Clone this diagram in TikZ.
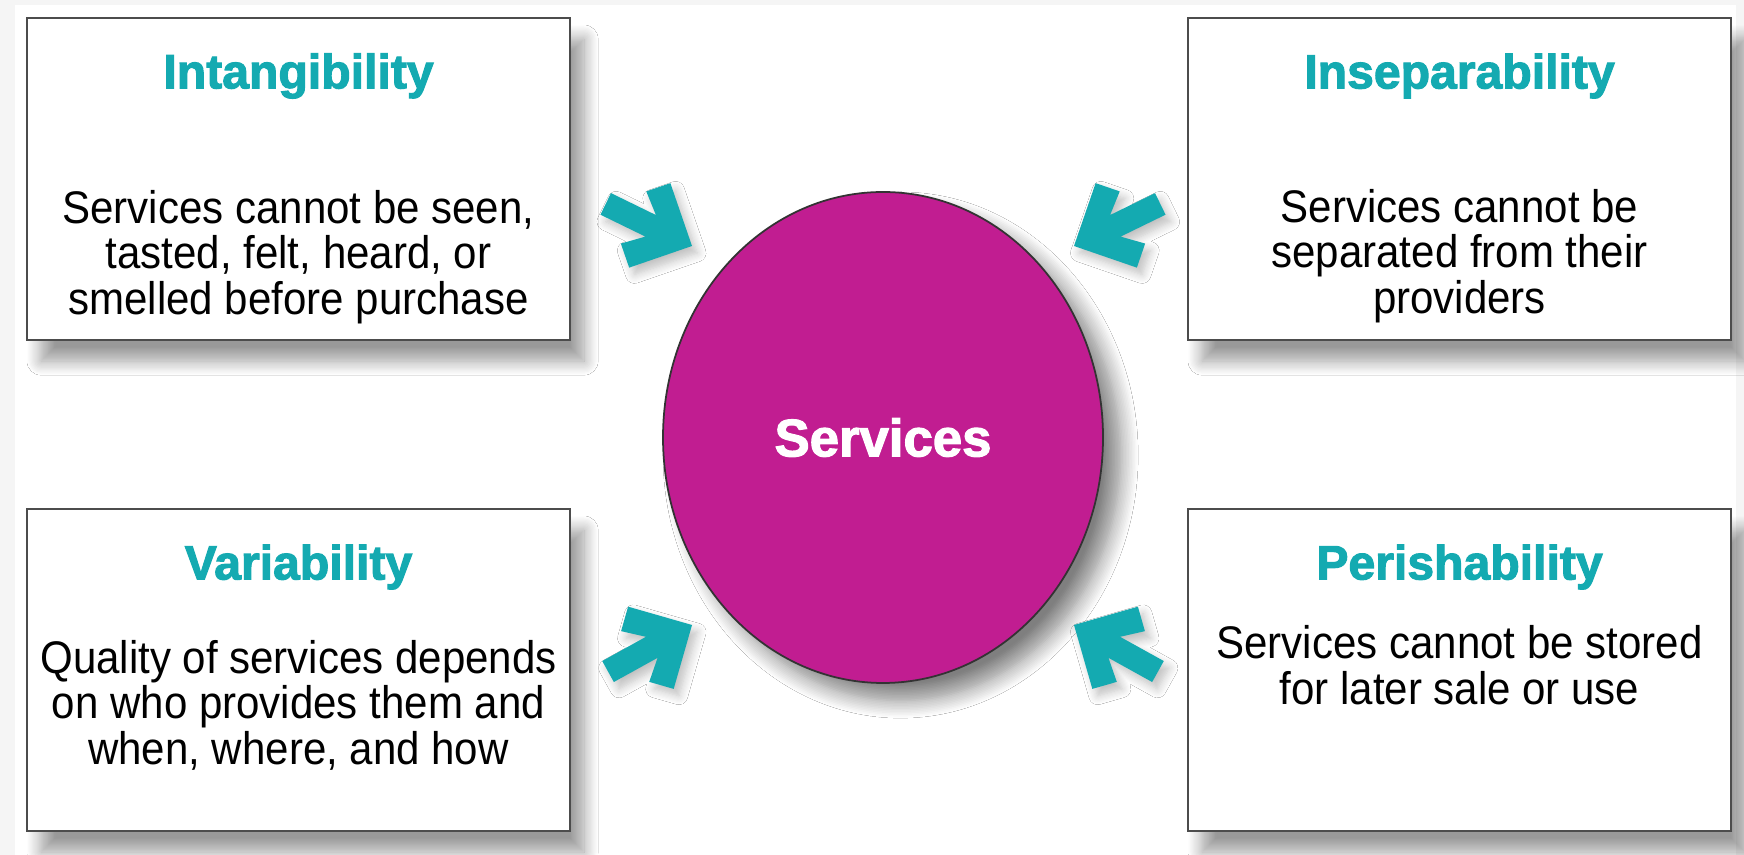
\documentclass[tikz,border=0pt]{standalone}
\usepackage{fontspec}
\setmainfont{Liberation Sans}
\newfontfamily\headfont[FakeBold=2.2]{Liberation Sans Bold}
\newfontfamily\bodyfont[FakeStretch=0.92]{Liberation Sans}
\usetikzlibrary{shapes.geometric,shadows.blur}

\definecolor{svcteal}{HTML}{14AAB1}
\definecolor{svcmagenta}{HTML}{C11D91}

\tikzset{
    softshadow/.style={blur shadow={shadow xshift=4pt, shadow yshift=-6pt,
        shadow blur radius=4pt, shadow blur steps=12, shadow opacity=40}},
    coreshadow/.style={blur shadow={shadow xshift=5pt, shadow yshift=-5pt,
        shadow blur radius=5pt, shadow blur steps=12, shadow opacity=50}},
    arrowshadow/.style={blur shadow={shadow xshift=1.5pt, shadow yshift=-2pt,
        shadow blur radius=2.5pt, shadow blur steps=8, shadow opacity=25}},
    featbox/.style={draw=black!70, line width=0.6pt, fill=white,
        minimum width=5.43cm, minimum height=3.22cm, softshadow},
    feattitle/.style={text=svcteal, font=\headfont\fontsize{13.7}{16}\selectfont},
    feattext/.style={align=center, font=\bodyfont\fontsize{13}{12.95}\selectfont},
    pics/inarrow/.style={code={
        \fill[svcteal, arrowshadow] (0,0) -- (-0.47,0.47) -- (-0.65,0.29) -- (-0.46,0.12)
            -- (-0.96,0.12) -- (-0.96,-0.12) -- (-0.46,-0.12) -- (-0.65,-0.29)
            -- (-0.47,-0.47) -- cycle;
    }}
}

\begin{document}
\begin{tikzpicture}
    \useasboundingbox (0,0) rectangle (17.44,8.55);
    \fill[gray!8] (0,0) rectangle (17.44,8.55);
    \fill[white] (0.15,0) rectangle (17.36,8.50);

    % the four boxes
    \node[featbox] (intang) at (2.985,6.76) {};
    \node[feattitle] (intangT) at (2.985,7.79) {Intangibility};
    \node[feattext] (intangB) at (2.985,5.98) {Services cannot be seen,\\tasted, felt, heard, or\\smelled before purchase};

    \node[featbox] (insep) at (14.595,6.76) {};
    \node[feattitle] (insepT) at (14.595,7.79) {Inseparability};
    \node[feattext] (insepB) at (14.595,5.99) {Services cannot be\\separated from their\\providers};

    \node[featbox] (vary) at (2.985,1.85) {};
    \node[feattitle] (varyT) at (2.985,2.88) {Variability};
    \node[feattext] (varyB) at (2.985,1.50) {Quality of services depends\\on who provides them and\\when, where, and how};

    \node[featbox] (perish) at (14.595,1.85) {};
    \node[feattitle] (perishT) at (14.595,2.88) {Perishability};
    \node[feattext] (perishB) at (14.595,1.90) {Services cannot be stored\\for later sale or use};

    % centre
    \node[ellipse, draw=black!80, line width=0.5pt, fill=svcmagenta, coreshadow,
          minimum width=4.40cm, minimum height=4.91cm, inner sep=0pt,
          text=white, font=\headfont\fontsize{15}{18}\selectfont] (core) at (8.83,4.175) {Services};

    % arrows pointing in
    \pic[rotate=-26] at (6.92,6.09) {inarrow};
    \pic[rotate=206] at (10.74,6.09) {inarrow};
    \pic[rotate=29] at (6.92,2.30) {inarrow};
    \pic[rotate=151] at (10.74,2.30) {inarrow};
\end{tikzpicture}
\end{document}
